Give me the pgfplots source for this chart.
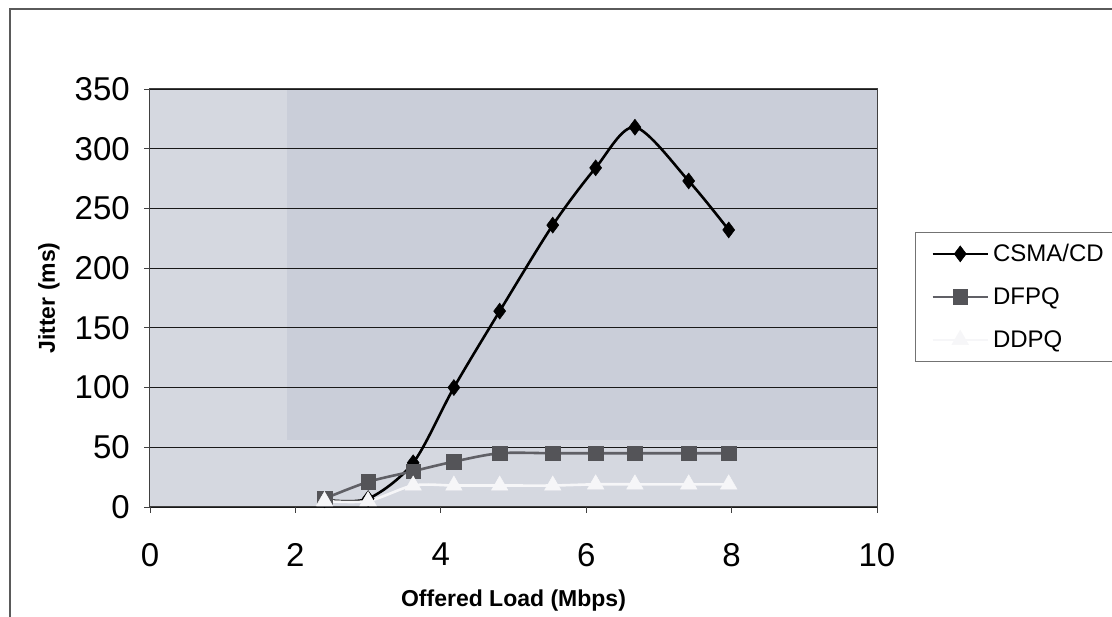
\documentclass[border=0pt]{standalone}
\usepackage{pgfplots}
\pgfplotsset{compat=1.18}
\usepackage{fontspec}
\setmainfont{Liberation Sans}

\definecolor{plotbg}{RGB}{213,216,224}
\definecolor{plotbgdark}{RGB}{202,206,217}
\definecolor{dfpqcol}{RGB}{84,84,88}
\definecolor{dfpqline}{RGB}{96,96,102}
\definecolor{ddpqcol}{RGB}{246,246,248}
\definecolor{framecol}{RGB}{90,90,90}

% Jitter measurements (ms) against offered load (Mbps)
\pgfplotstableread{
x     y
2.40  6
3.00  7
3.62  37
4.18  100
4.81  164
5.54  236
6.13  284
6.67  318
7.41  273
7.96  232
}\csmacd
\pgfplotstableread{
x     y
2.40  7
3.00  21
3.62  30
4.18  38
4.81  45
5.54  45
6.13  45
6.67  45
7.41  45
7.96  45
}\dfpq
\pgfplotstableread{
x     y
2.40  5
3.00  5
3.62  18
4.18  18
4.81  18
5.54  18
6.13  19
6.67  19
7.41  19
7.96  19
}\ddpq

\begin{document}
\begin{tikzpicture}
\useasboundingbox (0,0) rectangle (1112pt,617pt);
\begin{axis}[
  at={(150pt,110pt)}, anchor=south west,
  scale only axis,
  width=727pt, height=418pt,
  xmin=0, xmax=10, ymin=0, ymax=350,
  xtick={0,2,...,10}, ytick={0,50,...,350},
  /pgf/number format/assume math mode=true,
  tick label style={font=\fontsize{33}{33}\selectfont, text=black},
  xtick pos=left, ytick pos=left,
  tick align=outside,
  major tick length=6pt,
  tick style={black!75, line width=0.8pt},
  ymajorgrids,
  grid style={black!90, line width=1.1pt},
  axis line style={black!75, line width=1pt},
  axis background/.style={fill=plotbg, path picture={
    \fill[plotbgdark] ([xshift=137pt]path picture bounding box.north west)
      rectangle ([yshift=67pt]path picture bounding box.south east);}},
  xticklabel style={inner sep=0pt, yshift=-30pt},
  yticklabel style={inner sep=0pt, xshift=-14pt},
  xlabel={\textbf{Offered Load (Mbps)}},
  ylabel={\textbf{Jitter (ms)}},
  label style={font=\fontsize{23}{23}\selectfont},
  xlabel style={at={(rel axis cs:0.5,0)}, anchor=base, yshift=-100pt},
  ylabel style={at={(axis description cs:-0.1307,0.5)}, anchor=base},
  legend style={
    at={(rel axis cs:1.0523,0.6579)}, anchor=north west,
    draw=black!55, line width=0.8pt, fill=white,
    inner xsep=16pt, inner ysep=0pt,
    font=\fontsize{24}{24}\selectfont,
    nodes={inner xsep=4pt, inner ysep=0pt, text height=29pt, text depth=14pt},
  },
  legend cell align=left,
  legend image code/.code={
    \draw[mark repeat=2, mark phase=2, #1]
      plot coordinates {(0pt,0pt) (27.5pt,0pt) (55pt,0pt)};
  },
  clip=false,
]
\addplot[black, line width=2.6pt, smooth, tension=0.5,
  mark=diamond*, mark size=8pt, mark options={solid, fill=black, line width=0.5pt}]
  table[x=x, y=y] {\csmacd};
\addlegendentry{CSMA/CD}

\addplot[dfpqline, line width=2.6pt, smooth, tension=0.5,
  mark=square*, mark size=7.3pt, mark options={solid, fill=dfpqcol, draw=dfpqcol, line width=0.5pt}]
  table[x=x, y=y] {\dfpq};
\addlegendentry{DFPQ}

\addplot[ddpqcol, line width=2.6pt, smooth, tension=0.5,
  mark=triangle*, mark size=9.5pt, mark options={solid, fill=ddpqcol, draw=ddpqcol, line width=0.5pt}]
  table[x=x, y=y] {\ddpq};
\addlegendentry{DDPQ}
\end{axis}

% outer chart frame
\draw[framecol, line width=1.3pt] (10pt,0pt) -- (10pt,608pt) -- (1112pt,608pt);
\end{tikzpicture}
\end{document}
